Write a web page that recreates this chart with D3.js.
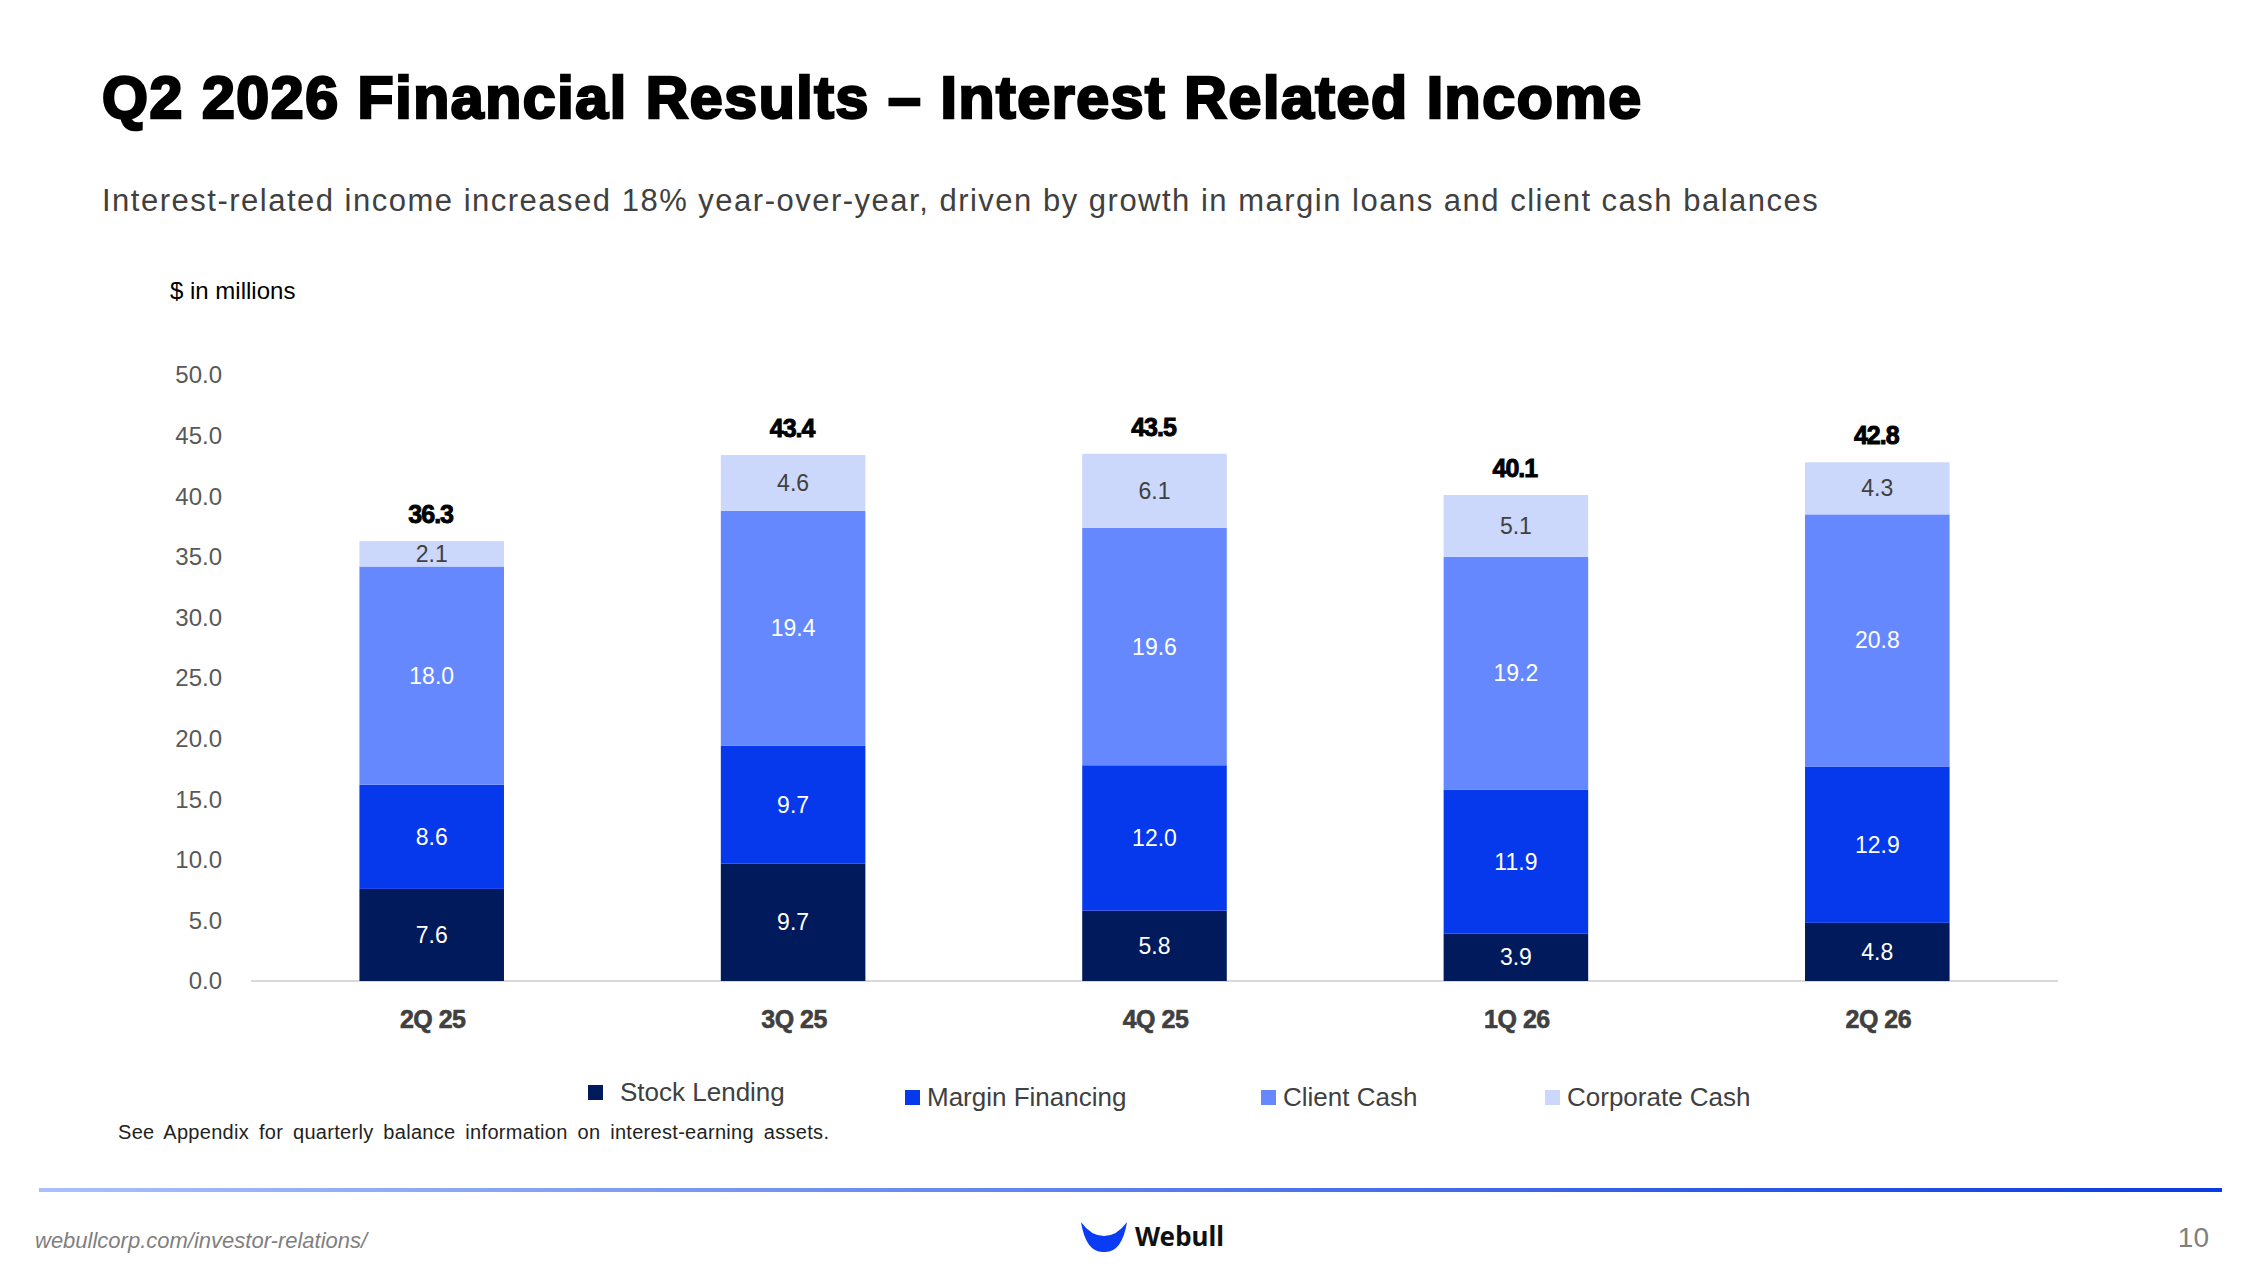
<!DOCTYPE html>
<html><head><meta charset="utf-8">
<script src="https://cdn.jsdelivr.net/npm/d3@7"></script>
<style>body{margin:0;background:#fff}svg{display:block;font-family:"Liberation Sans",Arial,sans-serif}</style>
</head><body><div id="chart"></div>
<script>
const quarters = ["2Q 25", "3Q 25", "4Q 25", "1Q 26", "2Q 26"];
const stockLending = [7.6, 9.7, 5.8, 3.9, 4.8];
const marginFinancing = [8.6, 9.7, 12.0, 11.9, 12.9];
const clientCash = [18.0, 19.4, 19.6, 19.2, 20.8];
const corporateCash = [2.1, 4.6, 6.1, 5.1, 4.3];
const totals = [36.3, 43.4, 43.5, 40.1, 42.8];
const yTicks = [0, 5, 10, 15, 20, 25, 30, 35, 40, 45, 50];

const series = [
  { key: "Stock Lending", values: stockLending, color: "#001a5c", text: "#fff" },
  { key: "Margin  Financing", values: marginFinancing, color: "#0638ec", text: "#fff" },
  { key: "Client Cash", values: clientCash, color: "#6688ff", text: "#fff" },
  { key: "Corporate  Cash", values: corporateCash, color: "#cbd8fb", text: "#404040" },
];

const W = 2267, H = 1275;
const svg = d3.select("#chart").append("svg").attr("width", W).attr("height", H);

svg.append("text").attr("x", 102).attr("y", 118).attr("font-size", 59).attr("font-weight", 900)
  .attr("stroke", "#000").attr("stroke-width", 2.6).attr("letter-spacing", 1.6)
  .text("Q2 2026 Financial Results – Interest Related Income");
svg.append("text").attr("x", 102).attr("y", 211).attr("font-size", 31).attr("fill", "#404040")
  .attr("letter-spacing", 1.5)
  .text("Interest-related income increased 18% year-over-year, driven by growth in margin loans and client cash balances");
svg.append("text").attr("x", 170).attr("y", 299).attr("font-size", 24).text("$ in millions");

const x = d3.scaleBand().domain(quarters).range([251, 2058]).paddingInner(0.6).paddingOuter(0.3);
const y = d3.scaleLinear().domain([0, 50]).range([981, 375]);

svg.append("g").selectAll("text").data(yTicks).join("text")
  .attr("x", 222).attr("y", d => y(d)).attr("dy", "0.35em").attr("text-anchor", "end")
  .attr("font-size", 24).attr("fill", "#595959").text(d => d.toFixed(1));

svg.append("line").attr("x1", 251).attr("x2", 2058).attr("y1", y(0)).attr("y2", y(0))
  .attr("stroke", "#d9d9d9").attr("stroke-width", 2);

const stackData = quarters.map((q, i) => {
  let acc = 0;
  return series.map(s => { const v = s.values[i]; const d = { q, s, v, y0: acc, y1: acc + v }; acc += v; return d; });
}).flat();

const g = svg.append("g");
g.selectAll("rect").data(stackData).join("rect")
  .attr("x", d => x(d.q)).attr("width", x.bandwidth())
  .attr("y", d => y(d.y1)).attr("height", d => y(d.y0) - y(d.y1))
  .attr("fill", d => d.s.color);
g.selectAll("text.seg").data(stackData).join("text").attr("class", "seg")
  .attr("x", d => x(d.q) + x.bandwidth() / 2).attr("y", d => y((d.y0 + d.y1) / 2))
  .attr("dy", "0.35em").attr("text-anchor", "middle").attr("font-size", 23)
  .attr("fill", d => d.s.text).text(d => d.v.toFixed(1));

const stackTop = quarters.map((q, i) => d3.sum(series, s => s.values[i]));
svg.append("g").selectAll("text").data(quarters).join("text")
  .attr("x", d => x(d) + x.bandwidth() / 2 - 1).attr("y", (d, i) => y(stackTop[i]) - 18)
  .attr("text-anchor", "middle").attr("font-size", 25).attr("font-weight", 700)
  .attr("stroke", "#000").attr("stroke-width", 0.9).attr("letter-spacing", -1)
  .text((d, i) => totals[i].toFixed(1));

svg.append("g").selectAll("text").data(quarters).join("text")
  .attr("x", d => x(d) + x.bandwidth() / 2 + 1).attr("y", 1028)
  .attr("text-anchor", "middle").attr("font-size", 25).attr("font-weight", 700)
  .attr("fill", "#404040").attr("stroke", "#404040").attr("stroke-width", 0.6).attr("letter-spacing", -0.5)
  .text(d => d);

const legendX = [588, 905, 1261, 1545];
const lg = svg.append("g").selectAll("g").data(series).join("g")
  .attr("transform", (d, i) => `translate(${legendX[i]},${i === 0 ? 1092 : 1097})`);
lg.append("rect").attr("x", 0).attr("y", -7).attr("width", 15).attr("height", 15).attr("fill", d => d.color);
lg.append("text").attr("x", (d, i) => i === 0 ? 32 : 22).attr("dy", "0.35em").attr("font-size", 26)
  .attr("fill", "#404040").text(d => d.key);

svg.append("text").attr("x", 118).attr("y", 1139).attr("font-size", 20).attr("fill", "#222")
  .attr("word-spacing", 4).attr("letter-spacing", 0.3)
  .text("See Appendix for quarterly balance information on interest-earning assets.");

const grad = svg.append("defs").append("linearGradient").attr("id", "fl");
grad.append("stop").attr("offset", 0).attr("stop-color", "#a9c0fb");
grad.append("stop").attr("offset", 1).attr("stop-color", "#0a3be0");
svg.append("rect").attr("x", 39).attr("y", 1188).attr("width", 2183).attr("height", 4).attr("fill", "url(#fl)");

svg.append("text").attr("x", 35).attr("y", 1248).attr("font-size", 22).attr("font-style", "italic")
  .attr("fill", "#7f7f7f").text("webullcorp.com/investor-relations/");
svg.append("text").attr("x", 2209).attr("y", 1247).attr("text-anchor", "end").attr("font-size", 28)
  .attr("fill", "#7f7f7f").text("10");

svg.append("path").attr("d", "M1081,1222 Q1086,1253 1104,1252 Q1122,1253 1127,1222 Q1117,1236 1104,1236 Q1091,1236 1081,1222 Z")
  .attr("fill", "#0a3cf5");
svg.append("text").attr("x", 1135).attr("y", 1246).attr("font-size", 26).attr("font-weight", 700)
  .attr("font-family", "'Noto Sans', sans-serif").attr("fill", "#111").text("Webull");
</script></body></html>
